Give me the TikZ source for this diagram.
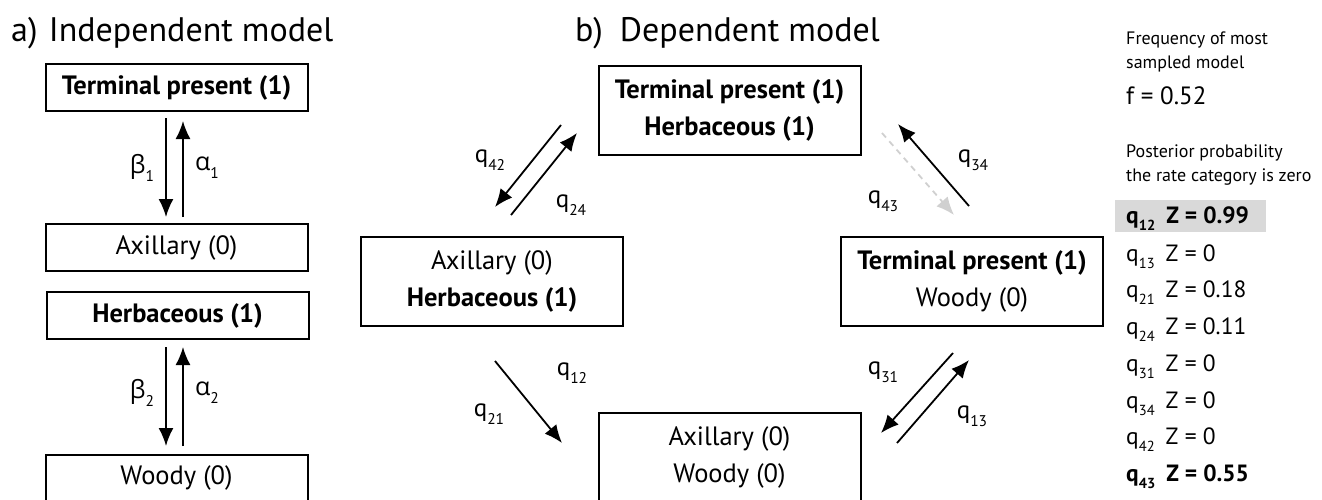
\documentclass[tikz,border=0pt]{standalone}
\usepackage{fontspec}
\setmainfont{PT Sans}
\newfontfamily\grk{Open Sans}
\usetikzlibrary{arrows.meta}
\newcommand\lo[1]{\raisebox{-0.33em}{\scalebox{0.62}{#1}}}
\newcommand\fs[1]{\fontsize{#1}{#1}\selectfont}
\definecolor{hl}{RGB}{217,217,217}
\definecolor{dashgray}{RGB}{208,208,208}
\begin{document}
\begin{tikzpicture}[x=1pt,y=-1pt,
  box/.style={draw, line width=2pt, minimum width=262pt, inner sep=0pt, align=center},
  smallbox/.style={box, minimum height=47pt, font=\fs{26.5pt}},
  bigbox/.style={box, minimum height=89pt, font=\fontsize{26.5pt}{37pt}\selectfont},
  arr/.style={line width=1.8pt, -{Latex[length=18pt,width=15pt]}},
  garr/.style={arr, color=dashgray, dash pattern=on 6pt off 5pt},
  lbl/.style={font=\fs{25pt}, inner sep=0pt},
  ttl/.style={font=\fs{34pt}, anchor=base west, inner sep=0pt},
  note/.style={font=\fs{18pt}, anchor=base west, inner sep=0pt},
  zline/.style={font=\fs{23.5pt}, anchor=base west, inner sep=0pt}
]
\useasboundingbox (0,0) rectangle (1322,499);
\clip (0,0) rectangle (1322,499);

% titles
\node[ttl] (ta) at (11,41) {a)\,\,Independent model};
\node[ttl] (tb) at (575,41) {b)\,\,\,Dependent model};

% a) independent model
\node[smallbox] (tp) at (176.5,87.5) {\textbf{Terminal present (1)}};
\node[smallbox] (ax) at (176.5,247.5) {Axillary (0)};
\node[smallbox] (hb) at (177.5,315.5) {\textbf{Herbaceous (1)}};
\node[smallbox] (wd) at (176.5,478) {Woody (0)};

\draw[arr, shorten <=6pt, shorten >=6pt] ([xshift=-10.5pt]tp.south) -- ([xshift=-10.5pt]ax.north);
\draw[arr, shorten <=6pt, shorten >=9pt] ([xshift=6.5pt]ax.north) -- ([xshift=6.5pt]tp.south);
\draw[arr, shorten <=7pt, shorten >=7.5pt] ([xshift=-11.5pt]hb.south) -- ([xshift=-10.5pt]wd.north);
\draw[arr, shorten <=7.5pt, shorten >=7pt] ([xshift=6.5pt]wd.north) -- ([xshift=5.5pt]hb.south);

\node[lbl] (b1) at (142,168) {{\grk β}\lo{1}};
\node[lbl] (a1) at (207,168) {{\grk α}\lo{1}};
\node[lbl] (b2) at (142,393) {{\grk β}\lo{2}};
\node[lbl] (a2) at (207,393) {{\grk α}\lo{2}};

% b) dependent model
\node[bigbox] (m4) at (729.5,110) {\textbf{Terminal present (1)}\\\textbf{Herbaceous (1)}};
\node[bigbox] (m2) at (492,281.5) {Axillary (0)\\\textbf{Herbaceous (1)}};
\node[bigbox] (m3) at (972,281.5) {\textbf{Terminal present (1)}\\Woody (0)};
\node[bigbox] (m1) at (729.5,457) {Axillary (0)\\Woody (0)};

\coordinate (a42s) at (561,125); \coordinate (a42e) at (495,207);
\coordinate (a24s) at (511,215); \coordinate (a24e) at (577,133);
\coordinate (a21s) at (495,361); \coordinate (a21e) at (562,443);
\coordinate (a31s) at (953,353); \coordinate (a31e) at (881,433);
\coordinate (a13s) at (897,443); \coordinate (a13e) at (969,360);
\coordinate (a34s) at (969,206); \coordinate (a34e) at (898,124);
\coordinate (a43s) at (882,133); \coordinate (a43e) at (954,215);

\draw[arr] (a42s) -- (a42e);
\draw[arr] (a24s) -- (a24e);
\draw[arr] (a21s) -- (a21e);
\draw[arr] (a31s) -- (a31e);
\draw[arr] (a13s) -- (a13e);
\draw[arr] (a34s) -- (a34e);
\draw[garr] (a43s) -- (a43e);

\node[lbl] (l42) at (490,160) {q\lo{42}};
\node[lbl] (l24) at (571,205) {q\lo{24}};
\node[lbl] (l12) at (572,373) {q\lo{12}};
\node[lbl] (l21) at (489,414) {q\lo{21}};
\node[lbl] (l31) at (883,372) {q\lo{31}};
\node[lbl] (l13) at (972,416) {q\lo{13}};
\node[lbl] (l34) at (973,160) {q\lo{34}};
\node[lbl] (l43) at (883,201) {q\lo{43}};

% right panel
\node[note] (f1) at (1126,44) {Frequency of most};
\node[note] (f2) at (1126,68) {sampled model};
\node[zline, font=\fs{25pt}] (fv) at (1126,104) {f = 0.52};
\node[note] (p1) at (1126,157) {Posterior probability};
\node[note] (p2) at (1126,181) {the rate category is zero};
\fill[hl] (1115,200) rectangle (1266,232);
\node[zline] (z12) at (1126,223) {\textbf{q\lo{12}\hspace{11pt}Z = 0.99}};
\node[zline] (z13) at (1126,261) {q\lo{13}\hspace{11pt}Z = 0};
\node[zline] (z21) at (1126,297) {q\lo{21}\hspace{11pt}Z = 0.18};
\node[zline] (z24) at (1126,334) {q\lo{24}\hspace{11pt}Z = 0.11};
\node[zline] (z31) at (1126,371) {q\lo{31}\hspace{11pt}Z = 0};
\node[zline] (z34) at (1126,408) {q\lo{34}\hspace{11pt}Z = 0};
\node[zline] (z42) at (1126,444) {q\lo{42}\hspace{11pt}Z = 0};
\node[zline] (z43) at (1126,481) {\textbf{q\lo{43}\hspace{11pt}Z = 0.55}};
\end{tikzpicture}
\end{document}
